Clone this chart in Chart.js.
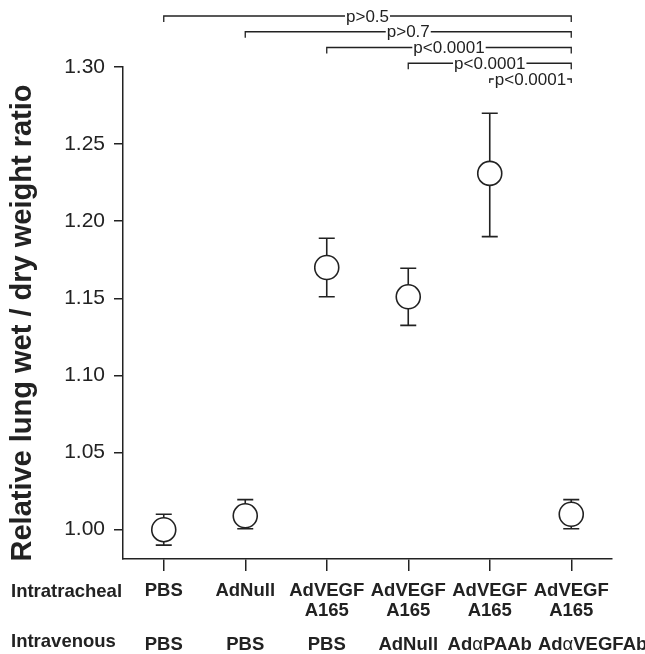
<!DOCTYPE html>
<html>
<head>
<meta charset="utf-8">
<script src="https://cdn.jsdelivr.net/npm/chart.js@4"></script>
<style>
  html, body { margin: 0; padding: 0; background: #fff; }
  #wrap { width: 645px; height: 654px; }
</style>
</head>
<body>
<div id="wrap"><canvas id="c" width="645" height="654"></canvas></div>
<script>
// ---- data ----
const intratracheal = [["PBS"], ["AdNull"], ["AdVEGF", "A165"], ["AdVEGF", "A165"], ["AdVEGF", "A165"], ["AdVEGF", "A165"]];
const intravenous = ["PBS", "PBS", "PBS", "AdNull", "AdαPAAb", "AdαVEGFAb"];
const means = [1.000, 1.009, 1.170, 1.151, 1.231, 1.010];
const upper = [1.010, 1.0195, 1.189, 1.1695, 1.270, 1.0195];
const lower = [0.990, 1.0006, 1.151, 1.1325, 1.190, 1.0006];
const yTicks = [1.00, 1.05, 1.10, 1.15, 1.20, 1.25, 1.30];
const compFrom = [0, 1, 2, 3, 4];
const compTo = [5, 5, 5, 5, 5];
const compLabels = ["p>0.5", "p>0.7", "p<0.0001", "p<0.0001", "p<0.0001"];
const rowHeaders = ["Intratracheal", "Intravenous"];
const yTitle = "Relative lung wet / dry weight ratio";

const INK = '#222';
const FONT = 'Arial, "Liberation Sans", Helvetica, sans-serif';
const LBL = 18.5;

const errorBars = {
  id: 'errorBars',
  beforeDatasetsDraw(chart) {
    const { ctx, scales: { x, y } } = chart;
    ctx.save();
    ctx.strokeStyle = INK;
    ctx.lineWidth = 1.6;
    means.forEach((m, i) => {
      const px = x.getPixelForValue(i);
      const yt = y.getPixelForValue(upper[i]);
      const yb = y.getPixelForValue(lower[i]);
      ctx.beginPath();
      ctx.moveTo(px, yt); ctx.lineTo(px, yb);
      ctx.moveTo(px - 8, yt); ctx.lineTo(px + 8, yt);
      ctx.moveTo(px - 8, yb); ctx.lineTo(px + 8, yb);
      ctx.stroke();
    });
    ctx.restore();
  }
};

function mixedParts(text) {
  // split so that Greek letters are drawn in regular weight
  return text.split(/(α)/).filter(s => s.length).map(s => ({ s, bold: s !== 'α' }));
}
function mixedWidth(ctx, parts) {
  let w = 0;
  parts.forEach(p => { ctx.font = (p.bold ? 'bold ' : '') + LBL + 'px ' + FONT; w += ctx.measureText(p.s).width; });
  return w;
}
function drawMixed(ctx, parts, left, base) {
  let xx = left;
  parts.forEach(p => {
    ctx.font = (p.bold ? 'bold ' : '') + LBL + 'px ' + FONT;
    ctx.fillText(p.s, xx, base);
    xx += ctx.measureText(p.s).width;
  });
}

const extras = {
  id: 'extras',
  afterDraw(chart) {
    const { ctx, scales: { x } } = chart;
    ctx.save();
    // comparison brackets
    ctx.font = '17px ' + FONT;
    ctx.textAlign = 'center';
    ctx.textBaseline = 'middle';
    compLabels.forEach((lab, i) => {
      const x1 = x.getPixelForValue(compFrom[i]);
      const x2 = x.getPixelForValue(compTo[i]);
      const yy = 16 + i * 15.75;
      const hook = i === compLabels.length - 1 ? 4 : 6;
      ctx.strokeStyle = INK;
      ctx.lineWidth = 1.3;
      ctx.beginPath();
      ctx.moveTo(x1, yy + hook); ctx.lineTo(x1, yy); ctx.lineTo(x2, yy); ctx.lineTo(x2, yy + hook);
      ctx.stroke();
      const mid = (x1 + x2) / 2;
      const w = ctx.measureText(lab).width;
      ctx.fillStyle = '#fff';
      ctx.fillRect(mid - w / 2 - 1, yy - 7, w + 2, 14);
      ctx.fillStyle = INK;
      ctx.fillText(lab, mid, yy + 1);
    });
    // row headers
    ctx.font = 'bold ' + LBL + 'px ' + FONT;
    ctx.textAlign = 'left';
    ctx.textBaseline = 'alphabetic';
    ctx.fillStyle = INK;
    ctx.fillText(rowHeaders[0], 11, 597);
    ctx.fillText(rowHeaders[1], 11, 647);
    // intravenous row (centered under ticks, shifted right to avoid overlap)
    let prevRight = -Infinity;
    intravenous.forEach((lab, i) => {
      const parts = mixedParts(lab);
      const w = mixedWidth(ctx, parts);
      let left = x.getPixelForValue(i) - w / 2;
      if (left < prevRight + 6) left = prevRight + 6;
      drawMixed(ctx, parts, left, 650);
      prevRight = left + w;
    });
    // y-axis title
    ctx.save();
    ctx.translate(31, 323);
    ctx.rotate(-Math.PI / 2);
    ctx.font = 'bold 29px ' + FONT;
    ctx.textAlign = 'center';
    ctx.fillText(yTitle, 0, 0);
    ctx.restore();
    ctx.restore();
  }
};

new Chart(document.getElementById('c'), {
  type: 'line',
  data: {
    labels: intratracheal,
    datasets: [{
      data: means,
      showLine: false,
      pointRadius: 12,
      pointHoverRadius: 12,
      pointBackgroundColor: '#fff',
      pointBorderColor: INK,
      pointBorderWidth: 1.6
    }]
  },
  options: {
    responsive: false,
    animation: false,
    events: [],
    layout: { padding: { top: 67, right: 33, left: 0, bottom: 0 } },
    plugins: { legend: { display: false }, tooltip: { enabled: false } },
    scales: {
      x: {
        type: 'category',
        position: 'bottom',
        offset: true,
        grid: { drawOnChartArea: false, drawTicks: true, tickLength: 12, color: INK, lineWidth: 1.5, offset: false },
        border: { display: true, color: INK, width: 1.5 },
        ticks: { color: INK, font: { family: FONT, size: LBL, weight: 'bold', lineHeight: 20 / LBL }, padding: 9.5, maxRotation: 0, autoSkip: false },
        afterFit(s) { s.height = 95; }
      },
      y: {
        min: 0.981,
        max: 1.30,
        afterBuildTicks(s) { s.ticks = yTicks.map(v => ({ value: v })); },
        grid: { drawOnChartArea: false, drawTicks: true, tickLength: 9, color: INK, lineWidth: 1.5 },
        border: { display: true, color: INK, width: 1.5 },
        ticks: { color: INK, font: { family: FONT, size: 21 }, padding: 9, callback: v => Number(v).toFixed(2) },
        afterFit(s) { s.width = 123; }
      }
    }
  },
  plugins: [errorBars, extras]
});
</script>
</body>
</html>
